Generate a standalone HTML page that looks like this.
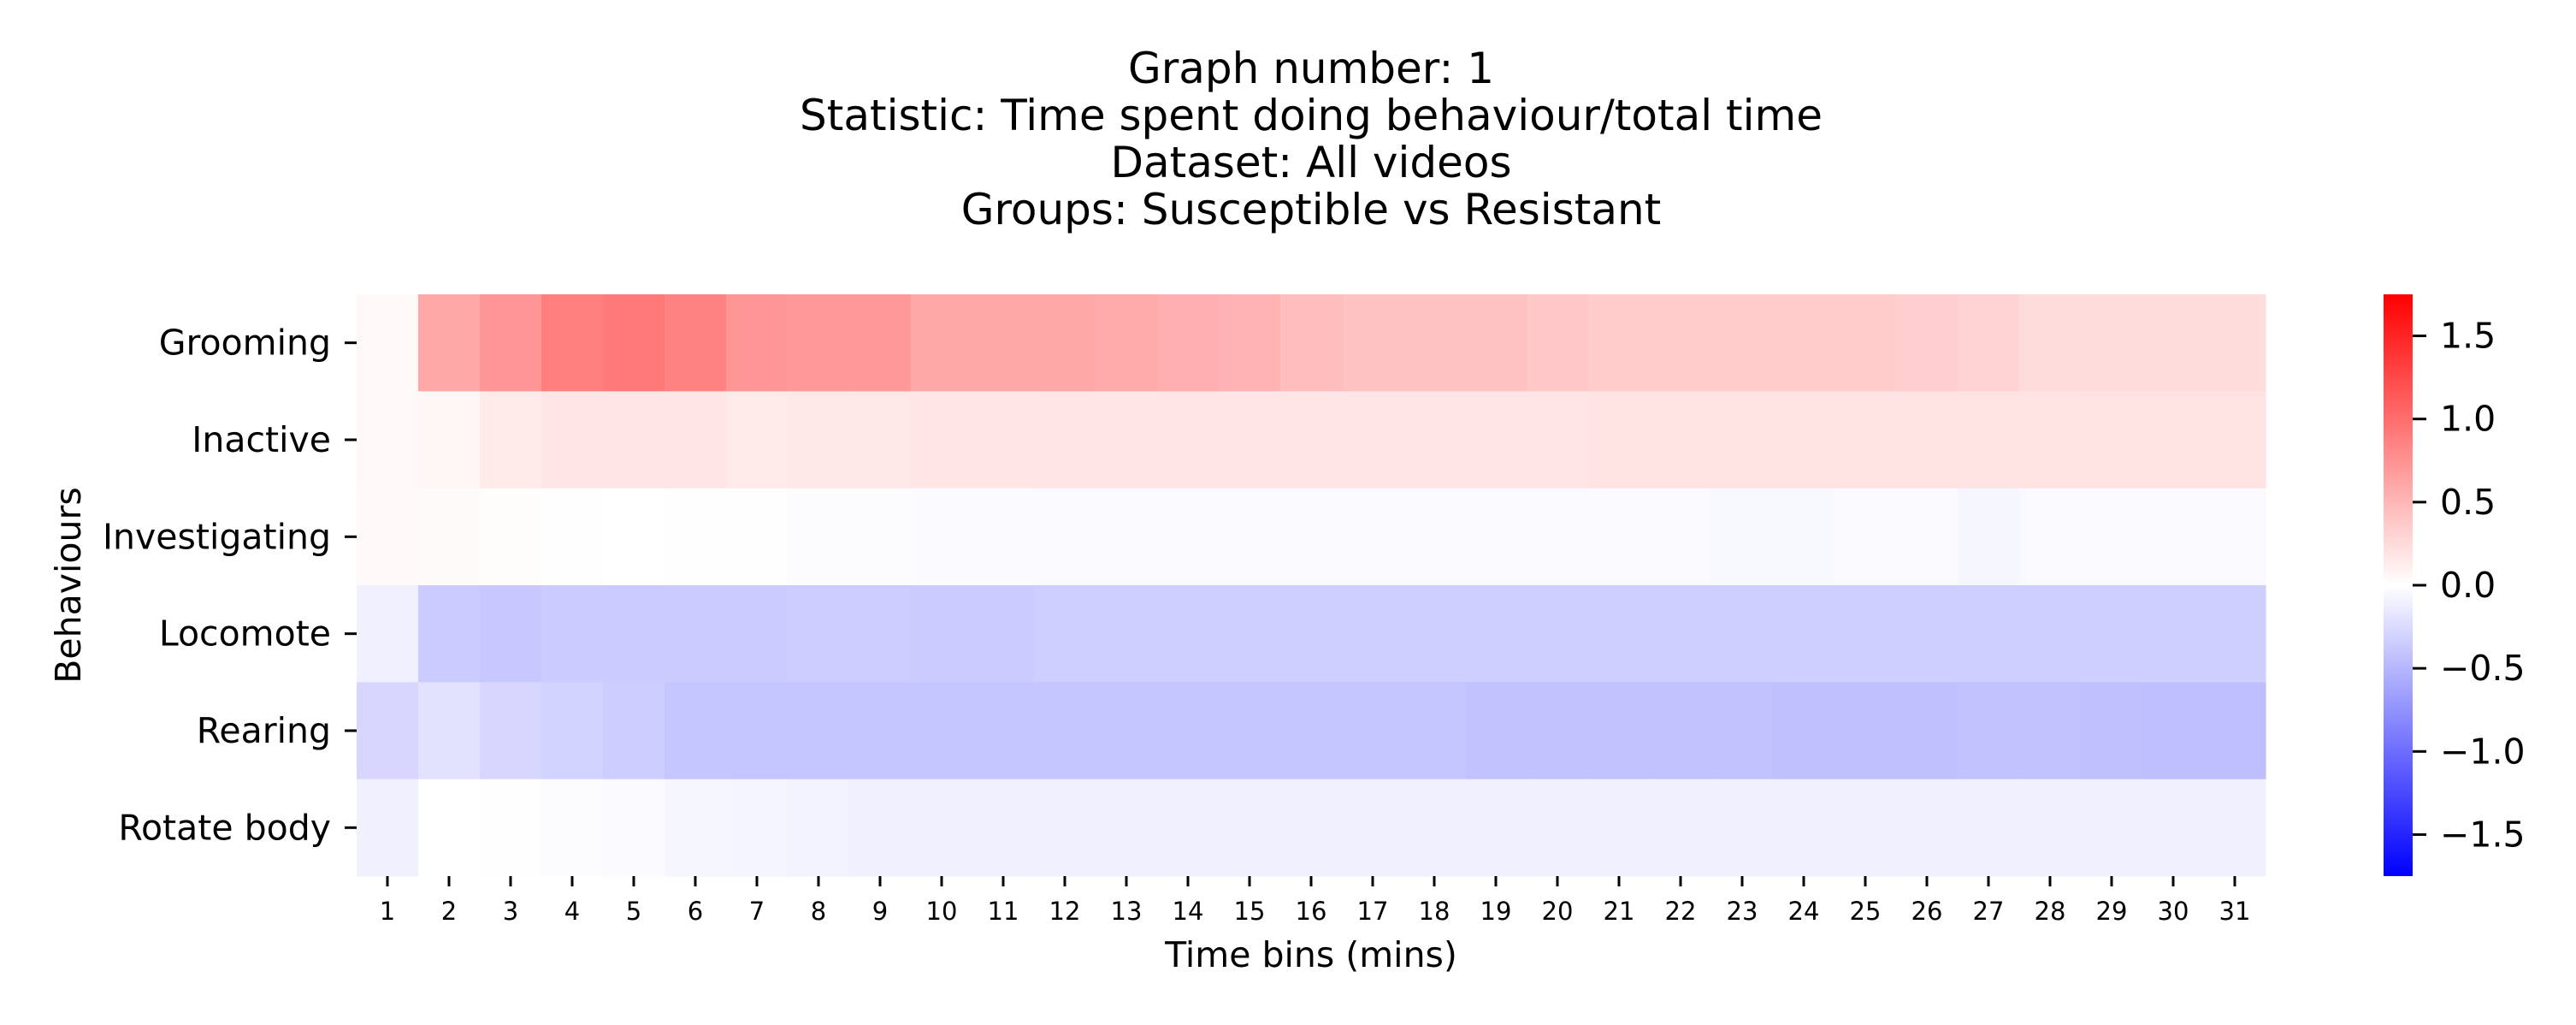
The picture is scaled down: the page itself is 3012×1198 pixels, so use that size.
<!DOCTYPE html>
<html><head><meta charset="utf-8">
<style>
html,body{margin:0;padding:0;background:#fff;}
svg{display:block;font-family:"DejaVu Sans","Liberation Sans",sans-serif;}
</style></head>
<body>
<svg id="chart" width="3012" height="1198" viewBox="0 0 3012 1198" xmlns="http://www.w3.org/2000/svg">
<g font-size="50" text-anchor="middle" fill="#000">
<text x="1533" y="97">Graph number: 1</text>
<text x="1533" y="152">Statistic: Time spent doing behaviour/total time</text>
<text x="1533" y="207">Dataset: All videos</text>
<text x="1533" y="262">Groups: Susceptible vs Resistant</text>
</g>
<g id="cells"></g>
<g id="yaxis"></g>
<g id="xaxis"></g>
<text x="0" y="0" font-size="41" text-anchor="middle" transform="translate(94,684) rotate(-90)">Behaviours</text>
<text x="1533" y="1130" font-size="41" text-anchor="middle">Time bins (mins)</text>
<defs>
<linearGradient id="bwr" x1="0" y1="1" x2="0" y2="0">
<stop offset="0" stop-color="#0000ff"/><stop offset="0.5" stop-color="#ffffff"/><stop offset="1" stop-color="#ff0000"/>
</linearGradient>
</defs>
<rect x="2787" y="344" width="34" height="680" fill="url(#bwr)"/>
<g id="cbar"></g>
</svg>
<script>
const rows = ["Grooming","Inactive","Investigating","Locomote","Rearing","Rotate body"];
const cols = ["1","2","3","4","5","6","7","8","9","10","11","12","13","14","15","16","17","18","19","20","21","22","23","24","25","26","27","28","29","30","31"];
const grooming = [0.05,0.6,0.72,0.88,0.92,0.85,0.72,0.7,0.7,0.6,0.6,0.6,0.58,0.55,0.52,0.45,0.42,0.42,0.42,0.38,0.36,0.36,0.36,0.36,0.36,0.34,0.3,0.25,0.23,0.23,0.23];
const inactive = [0.05,0.06,0.15,0.17,0.17,0.17,0.15,0.16,0.16,0.17,0.17,0.18,0.18,0.18,0.18,0.18,0.18,0.18,0.18,0.18,0.19,0.19,0.19,0.19,0.19,0.19,0.19,0.19,0.19,0.19,0.19];
const investigating = [0.04,0.03,0.02,0.005,0,-0.01,-0.01,-0.02,-0.02,-0.03,-0.03,-0.04,-0.04,-0.04,-0.04,-0.04,-0.04,-0.04,-0.04,-0.04,-0.04,-0.04,-0.05,-0.05,-0.04,-0.04,-0.06,-0.04,-0.04,-0.04,-0.04];
const locomote = [-0.1,-0.36,-0.38,-0.36,-0.36,-0.36,-0.36,-0.35,-0.35,-0.36,-0.36,-0.33,-0.33,-0.33,-0.33,-0.33,-0.33,-0.33,-0.33,-0.33,-0.33,-0.33,-0.33,-0.33,-0.33,-0.33,-0.33,-0.33,-0.33,-0.33,-0.33];
const rearing = [-0.28,-0.2,-0.28,-0.3,-0.34,-0.4,-0.4,-0.4,-0.4,-0.4,-0.4,-0.4,-0.4,-0.4,-0.4,-0.4,-0.4,-0.4,-0.42,-0.42,-0.42,-0.42,-0.42,-0.43,-0.43,-0.43,-0.42,-0.42,-0.43,-0.44,-0.44];
const rotate = [-0.1,0,-0.01,-0.02,-0.04,-0.06,-0.07,-0.08,-0.1,-0.1,-0.1,-0.1,-0.1,-0.1,-0.1,-0.1,-0.1,-0.1,-0.1,-0.1,-0.1,-0.1,-0.1,-0.1,-0.1,-0.1,-0.1,-0.1,-0.1,-0.1,-0.1];
const cbarTicks = [1.5,1.0,0.5,0.0,-0.5,-1.0,-1.5];
const cbarLabels = ["1.5","1.0","0.5","0.0","\u22120.5","\u22121.0","\u22121.5"];
const vmax = 1.75;
const series = [grooming,inactive,investigating,locomote,rearing,rotate];

const NS = "http://www.w3.org/2000/svg";
const L = 417, R = 2649, T = 344, B = 1024;
const cw = (R - L) / cols.length, rh = (B - T) / rows.length;
const xPos = i => L + i * cw;
const yPos = j => T + j * rh;
const cbY = v => (T + B) / 2 - v / vmax * (B - T) / 2;
function color(v) {
  let t = Math.max(-1, Math.min(1, v / vmax));
  let r, g, b;
  if (t >= 0) { r = 255; g = b = Math.round(255 * (1 - t)); }
  else { b = 255; r = g = Math.round(255 * (1 + t)); }
  return `rgb(${r},${g},${b})`;
}
function mk(tag, attrs, parent) {
  const e = document.createElementNS(NS, tag);
  for (const k in attrs) e.setAttribute(k, attrs[k]);
  parent.appendChild(e);
  return e;
}
const cells = document.getElementById('cells');
series.forEach((arr, j) => {
  arr.forEach((v, i) => {
    const r = mk('rect', {x: xPos(i), y: yPos(j), width: cw + 0.6, height: rh + 0.6, fill: color(v)}, cells);
    
    
  });
});
const ya = document.getElementById('yaxis');
rows.forEach((name, j) => {
  const y = yPos(j) + rh / 2;
  const tk = mk('line', {x1: L - 14, x2: L, y1: y, y2: y, stroke: '#000', 'stroke-width': 3}, ya);
  
  
  const t = mk('text', {x: L - 30, y: y + 14, 'font-size': 41, 'text-anchor': 'end'}, ya);
  
  
  t.textContent = name;
});
const xa = document.getElementById('xaxis');
cols.forEach((c, i) => {
  const x = xPos(i) + cw / 2;
  const tk = mk('line', {x1: x, x2: x, y1: B, y2: B + 12, stroke: '#000', 'stroke-width': 3}, xa);
  
  
  const t = mk('text', {x: x, y: B + 51, 'font-size': 29, 'text-anchor': 'middle'}, xa);
  
  
  t.textContent = c;
});
const cb = document.getElementById('cbar');
cbarTicks.forEach((v, i) => {
  const y = cbY(v);
  const tk = mk('line', {x1: 2821, x2: 2837, y1: y, y2: y, stroke: '#000', 'stroke-width': 3}, cb);
  
  
  const t = mk('text', {x: 2853, y: y + 14, 'font-size': 41}, cb);
  
  
  t.textContent = cbarLabels[i];
});
</script>
</body></html>
